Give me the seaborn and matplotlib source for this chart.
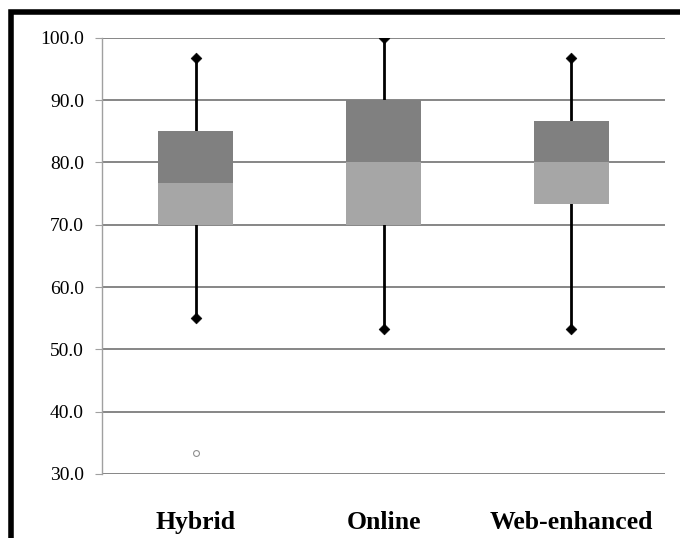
import seaborn as sns
import pandas as pd
import matplotlib.pyplot as plt
from matplotlib.patches import Rectangle

# data
groups = ["Hybrid", "Online", "Web-enhanced"]
q1 = [70.0, 70.0, 73.3]
median = [76.7, 80.0, 80.0]
q3 = [85.0, 90.0, 86.7]
low = [55.0, 53.3, 53.3]
high = [96.7, 100.0, 96.7]
outlier_group = ["Hybrid"]
outlier_value = [33.3]

df = pd.DataFrame({"group": groups, "q1": q1, "median": median, "q3": q3,
                   "low": low, "high": high})
df["lower"] = df["median"] - df["q1"]
df["upper"] = df["q3"] - df["median"]

sns.set_style("white")
plt.rcParams["font.family"] = ["Liberation Serif", "DejaVu Serif"]
plt.rcParams["text.color"] = "black"
plt.rcParams["xtick.color"] = "black"
plt.rcParams["ytick.color"] = "black"

fig = plt.figure(figsize=(6.8, 5.38), dpi=100)
ax = fig.add_axes([0.150, 0.119, 0.828, 0.8106])

# whiskers first so the boxes sit on top
ax.vlines(df["group"], df["low"], df["high"], color="black", lw=2, zorder=2)
for col in ["low", "high"]:
    sns.scatterplot(data=df, x="group", y=col, marker="D", color="black",
                    s=30, edgecolor="black", zorder=4, clip_on=True, ax=ax)

# lower half of box (q1 -> median) and upper half (median -> q3)
sns.barplot(data=df, x="group", y="lower", bottom=df["q1"], color="#a6a6a6",
            saturation=1, width=0.4, ax=ax, zorder=3, edgecolor="none", lw=0)
sns.barplot(data=df, x="group", y="upper", bottom=df["median"], color="#808080",
            saturation=1, width=0.4, ax=ax, zorder=3, edgecolor="none", lw=0)

ax.scatter(outlier_group, outlier_value, s=18, facecolor="white",
           edgecolor="#909090", lw=0.8, zorder=4)

ax.set_ylim(30, 100)
ax.set_xlim(-0.5, 2.5)
ax.set_yticks(range(30, 101, 10))
ax.set_yticklabels([f"{v:.1f}" for v in range(30, 101, 10)], fontsize=14)
ax.yaxis.grid(True, color="#868686", lw=1.4)
ax.set_axisbelow(True)
ax.tick_params(axis="y", left=True, length=5, color="#a0a0a0",
               labelcolor="black", pad=8)
ax.tick_params(axis="x", bottom=False, pad=23, labelcolor="black")
for lab in ax.get_xticklabels():
    lab.set_fontsize(18.5)
    lab.set_fontweight("bold")
for s in ["top", "right", "bottom"]:
    ax.spines[s].set_visible(False)
ax.spines["left"].set_color("#a0a0a0")
ax.spines["left"].set_linewidth(1)
ax.set_xlabel("")
ax.set_ylabel("")

# thick frame around the chart area (only left and top show)
fig.add_artist(Rectangle((10.5 / 680, -0.1), 1.2, 1.1 - 12.5 / 538,
                         transform=fig.transFigure, fill=False,
                         edgecolor="black", lw=4, clip_on=False))

fig.savefig("out.png", dpi=100)
